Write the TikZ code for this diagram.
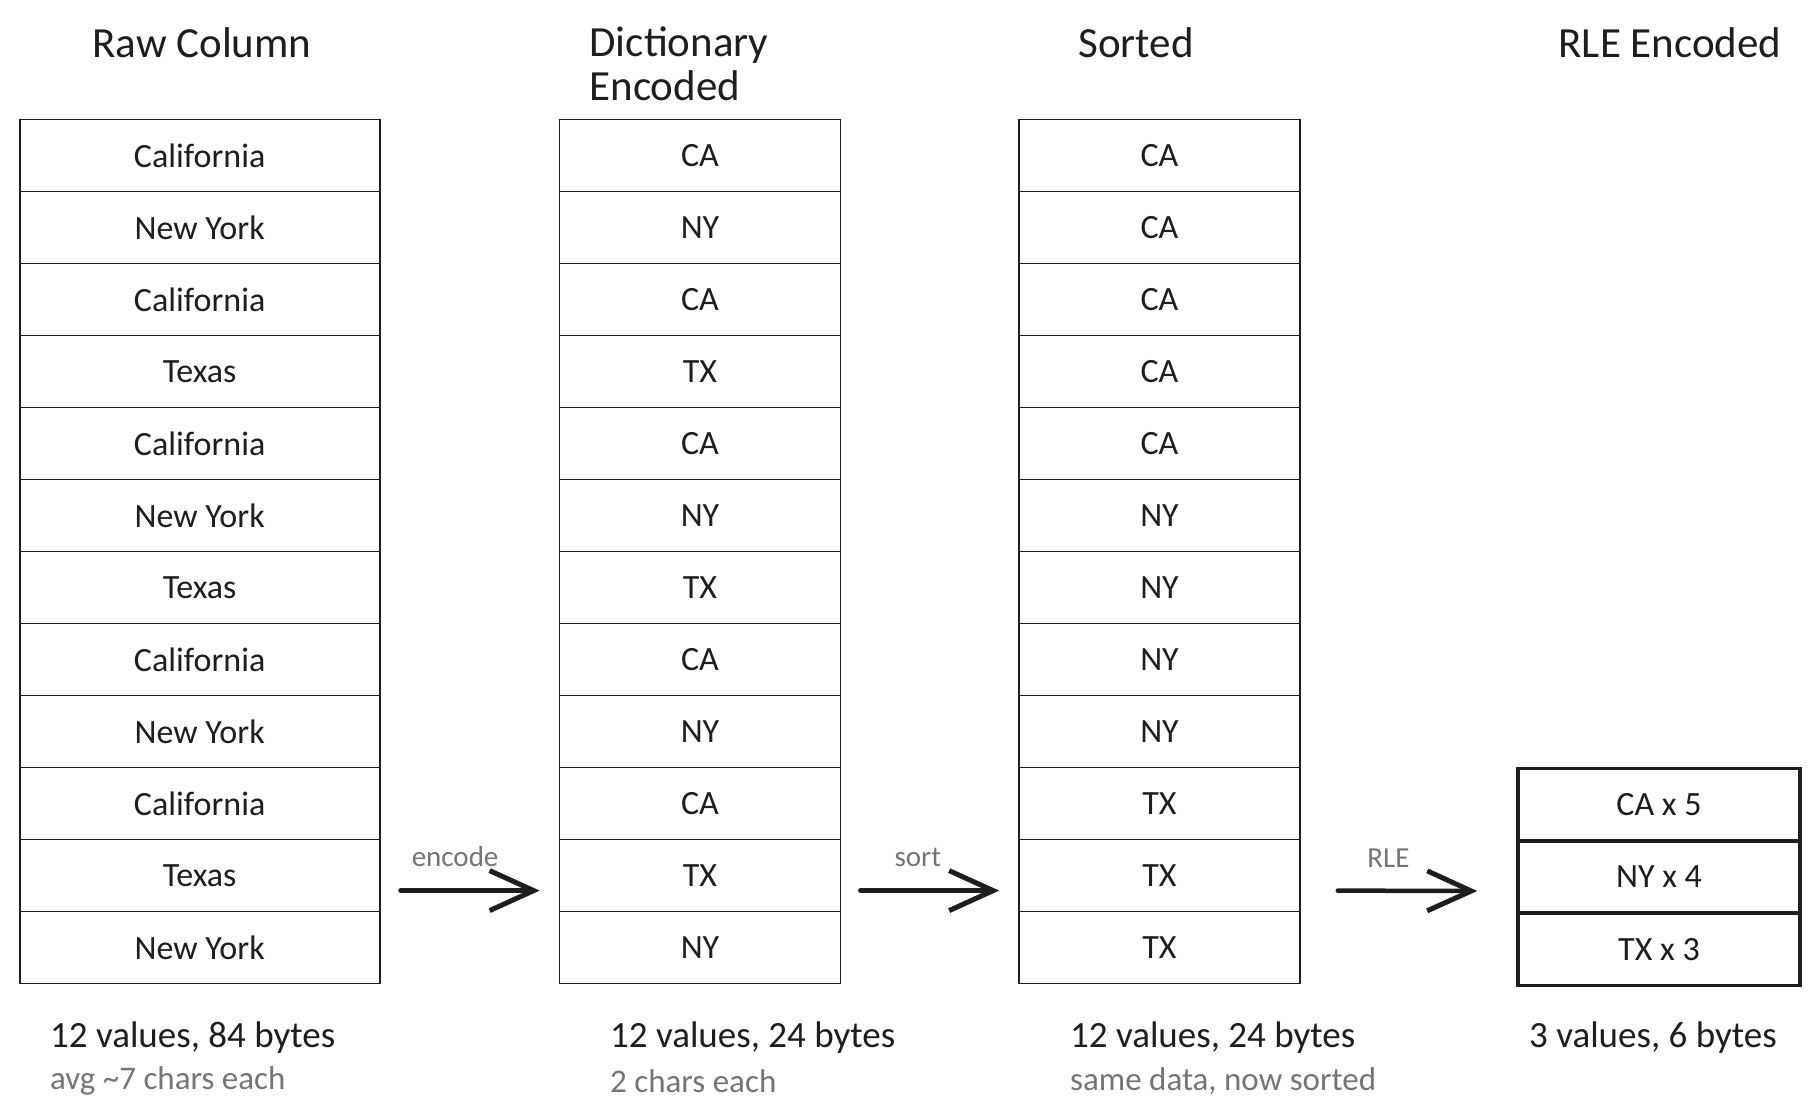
\documentclass[tikz,border=0pt]{standalone}
\usepackage{fontspec}
\setmainfont{Carlito}
\usetikzlibrary{arrows.meta,positioning}
\definecolor{ink}{HTML}{1E1E1E}
\definecolor{note}{HTML}{757575}
\tikzset{
  cell/.style={draw=ink, line width=1.6pt, minimum width=281pt, minimum height=72pt,
    inner sep=0pt, text=ink, font=\fontsize{34}{40}\selectfont},
  rlecell/.style={cell, line width=3.5pt, minimum height=72.4pt},
  heading/.style={text=ink, font=\fontsize{43}{44}\selectfont},
  summary/.style={anchor=west, inner xsep=0pt, text=ink, font=\fontsize{37}{40}\selectfont},
  remark/.style={anchor=west, inner xsep=0pt, text=note, font=\fontsize{33}{36}\selectfont},
  flow/.style={draw=ink, line width=4.5pt, line cap=round,
    -{Straight Barb[length=44pt,width=40pt,line width=5pt]}},
  flowlabel/.style={text=note, font=\fontsize{29}{32}\selectfont, above=18pt}
}
\begin{document}
\begin{tikzpicture}[x=1pt,y=-1pt]
\useasboundingbox[fill=white] (0,0) rectangle (1820,1119);

% headings
\node[heading] (rawtitle) at (202,43) {Raw Column};
\node[heading, anchor=west, align=left] (dicttitle) at (586,64) {Dictionary\\Encoded};
\node[heading] (sorttitle) at (1136,43) {Sorted};
\node[heading] (rletitle) at (1670,43) {RLE Encoded};

% columns
\foreach \t [count=\i] in {California,New York,California,Texas,California,New York,Texas,California,New York,California,Texas,New York}
  \node[cell, minimum width=360pt] (raw\i) at (199.7,{155.6+72*(\i-1)}) {\t};
\foreach \t [count=\i] in {CA,NY,CA,TX,CA,NY,TX,CA,NY,CA,TX,NY}
  \node[cell] (dict\i) at (700,{155.6+72*(\i-1)}) {\t};
\foreach \t [count=\i] in {CA,CA,CA,CA,CA,NY,NY,NY,NY,TX,TX,TX}
  \node[cell] (sort\i) at (1159.5,{155.6+72*(\i-1)}) {\t};
\foreach \t [count=\i] in {CA x 5,NY x 4,TX x 3}
  \node[rlecell, minimum width=282pt] (rle\i) at (1659,{804.6+72.4*(\i-1)}) {\t};

% arrows
\draw[flow] ([xshift=20pt,yshift=-15pt]raw11.east) -- node[flowlabel, xshift=-15pt] {encode} ([xshift=-19pt,yshift=-15pt]dict11.west);
\draw[flow] ([xshift=19pt,yshift=-15pt]dict11.east) -- node[flowlabel, xshift=-12pt] {sort} ([xshift=-19pt,yshift=-15pt]sort11.west);
\draw[flow] ([xshift=37pt,yshift=-15pt]sort11.east) -- node[flowlabel, xshift=-19pt] {RLE} ([xshift=-39pt,yshift=-14pt]rle2.west);

% sizes
\node[summary] (rawsum) at (50,1038) {12 values, 84 bytes};
\node[remark] (rawnote) at (50,1081) {avg \textasciitilde7 chars each};
\node[summary] (dictsum) at (610,1038) {12 values, 24 bytes};
\node[remark] (dictnote) at (610,1081) {2 chars each};
\node[summary] (sortsum) at (1070,1038) {12 values, 24 bytes};
\node[remark] (sortnote) at (1070,1081) {same data, now sorted};
\node[summary] (rlesum) at (1529,1038) {3 values, 6 bytes};
\end{tikzpicture}
\end{document}
